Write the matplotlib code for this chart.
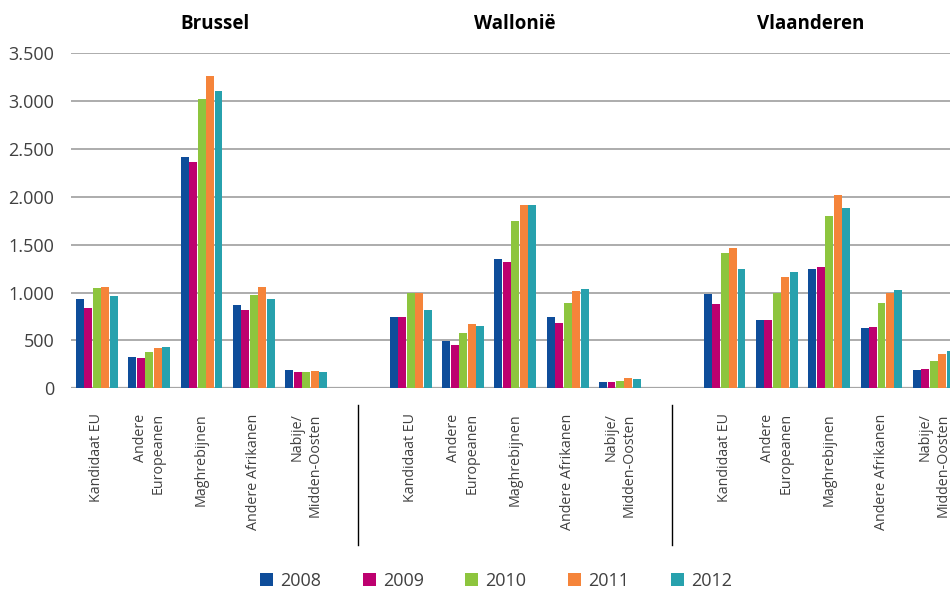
import numpy as np
import matplotlib
matplotlib.use("Agg")
import matplotlib.pyplot as plt
from matplotlib.patches import Patch
from matplotlib.ticker import FuncFormatter

plt.rcParams['font.family'] = ['Open Sans', 'DejaVu Sans']

# ── Data ─────────────────────────────────────────────────────────────────────

regions = ['Brussel', 'Wallonië', 'Vlaanderen']
categories = ['Kandidaat EU', 'Andere\nEuropeanen', 'Maghrebijnen',
              'Andere Afrikanen', 'Nabije/\nMidden-Oosten']
years = ['2008', '2009', '2010', '2011', '2012']
colors = ['#0e4d9a', '#bd006f', '#8dc53e', '#f5843a', '#27a1ad']

# values per year, categories in order, one dict per region
brussel = {
    '2008': [933, 327, 2417, 871, 191],
    '2009': [839, 317, 2365, 819, 170],
    '2010': [1048, 380, 3023, 975, 170],
    '2011': [1058, 421, 3263, 1058, 180],
    '2012': [964, 432, 3105, 933, 170],
}
wallonie = {
    '2008': [745, 494, 1349, 745, 62],
    '2009': [745, 453, 1318, 682, 62],
    '2010': [1000, 577, 1748, 891, 73],
    '2011': [1000, 672, 1915, 1014, 104],
    '2012': [818, 651, 1915, 1035, 94],
}
vlaanderen = {
    '2008': [988, 717, 1247, 634, 193],
    '2009': [880, 717, 1268, 644, 203],
    '2010': [1414, 1000, 1800, 891, 286],
    '2011': [1466, 1168, 2019, 1000, 359],
    '2012': [1247, 1220, 1883, 1024, 390],
}
region_data = [brussel, wallonie, vlaanderen]

# ── Plot ─────────────────────────────────────────────────────────────────────

fig = plt.figure(figsize=(9.5, 5.92), dpi=100)
ax = fig.add_axes([0.0745, 0.344, 0.9255, 0.566])

text_col = '#404040'
bar_w = 0.152
step = 0.162

tick_pos, tick_lbl = [], []
for r, data in enumerate(region_data):
    base = np.arange(len(categories)) + r * (len(categories) + 1)
    tick_pos.extend(base)
    tick_lbl.extend(categories)
    for k, yr in enumerate(years):
        ax.bar(base + (k - 2) * step, data[yr], width=bar_w,
               color=colors[k], zorder=3)

ax.set_ylim(0, 3500)
ax.set_xlim(-0.5, 16.31)
ax.set_yticks(np.arange(0, 3501, 500))
ax.yaxis.set_major_formatter(
    FuncFormatter(lambda v, _: f'{int(v):,}'.replace(',', '.')))
ax.grid(axis='y', color='#a6a6a6', lw=1.3, zorder=0)
for s in ['top', 'right', 'left', 'bottom']:
    ax.spines[s].set_visible(False)
ax.axhline(0, color='#a6a6a6', lw=1.6, zorder=2)

ax.set_xticks(tick_pos)
ax.set_xticklabels(tick_lbl, rotation=90, fontsize=10.3, color=text_col,
                   multialignment='right', linespacing=1.3)
ax.tick_params(axis='x', length=0, pad=18)
ax.tick_params(axis='y', length=0, labelsize=13, labelcolor=text_col, pad=12)

# vertical separators in the empty slots between regions
for xs in [5, 11]:
    ax.plot([xs, xs], [-0.05, -0.468], color='black', lw=1,
            transform=ax.get_xaxis_transform(), clip_on=False)

# region titles
for name, xc in zip(regions, [215, 515, 811]):
    fig.text(xc / 950, 1 - 24 / 592, name, ha='center', va='center',
             fontsize=13.5, fontweight='bold', color='black')

handles = [Patch(facecolor=c, label=y) for c, y in zip(colors, years)]
fig.legend(handles=handles, loc='center', ncol=5, frameon=False,
           bbox_to_anchor=(496 / 950, 1 - 581 / 592), fontsize=13,
           handlelength=0.72, handleheight=0.72, handletextpad=0.4,
           columnspacing=2.3, labelcolor=text_col)

fig.savefig('out.png', dpi=100, facecolor='white')
